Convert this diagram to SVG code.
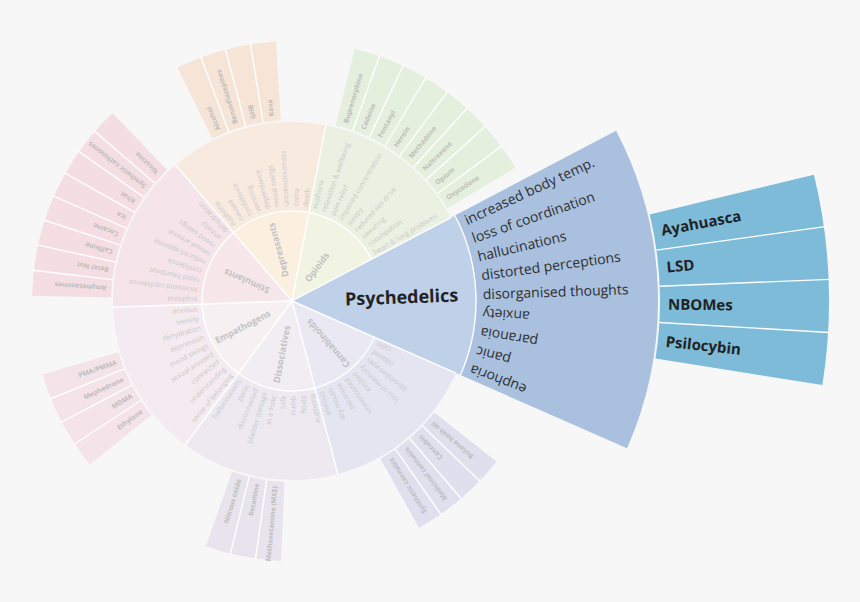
<svg xmlns="http://www.w3.org/2000/svg" width="860" height="602" viewBox="0 0 860 602">
<style>
text{font-family:"Open Sans","Liberation Sans",sans-serif}
.eff{font-size:7px;fill:#c9c9c9}
.sub{font-size:6.8px;font-weight:bold;fill:#bdbdbd}
.cat{font-size:9px;font-weight:bold;fill:#c2c2c2}
.peff{font-size:14px;fill:#2f2f2f}
.psub{font-size:15px;font-weight:bold;fill:#222}
.plab{font-size:18px;font-weight:bold;fill:#222}
.sec{fill:none}
.sep{stroke:#ffffff;stroke-width:1.4;fill:none}
</style>
<rect width="860" height="602" fill="#f7f7f7"/>
<g transform="translate(292,301)">
<!-- sectors -->
<g id="psychedelics">
<circle class="sec" r="92" stroke="#bed1e9" stroke-width="184" pathLength="360" stroke-dasharray="51.43 308.57" transform="rotate(-27.7)"/>
<circle class="sec" r="275" stroke="#a9c0df" stroke-width="182" pathLength="360" stroke-dasharray="51.43 308.57" transform="rotate(-27.7)"/>
<circle class="sec" r="452.5" stroke="#7dbbd9" stroke-width="169" pathLength="360" stroke-dasharray="22.6 337.4" transform="rotate(-13.6)"/>
</g>
<g id="cannabinoids">
<circle class="sec" r="45" stroke="#e9e8f3" stroke-width="90" pathLength="360" stroke-dasharray="51.43 308.57" transform="rotate(23.73)"/>
<circle class="sec" r="134.5" stroke="#e5e4f1" stroke-width="89" pathLength="360" stroke-dasharray="51.43 308.57" transform="rotate(23.73)"/>
<circle class="sec" r="220.5" stroke="#e0dfee" stroke-width="79" pathLength="360" stroke-dasharray="22.6 337.4" transform="rotate(38.14)"/>
</g>
<g id="dissociatives">
<circle class="sec" r="45" stroke="#f0eef3" stroke-width="90" pathLength="360" stroke-dasharray="51.43 308.57" transform="rotate(75.16)"/>
<circle class="sec" r="134.5" stroke="#ece9f1" stroke-width="89" pathLength="360" stroke-dasharray="51.43 308.57" transform="rotate(75.16)"/>
<circle class="sec" r="220.5" stroke="#e7e4ee" stroke-width="79" pathLength="360" stroke-dasharray="16.95 343.05" transform="rotate(92.4)"/>
</g>
<g id="empathogens">
<circle class="sec" r="45" stroke="#f6f0f3" stroke-width="90" pathLength="360" stroke-dasharray="51.43 308.57" transform="rotate(126.59)"/>
<circle class="sec" r="134.5" stroke="#f4ebf0" stroke-width="89" pathLength="360" stroke-dasharray="51.43 308.57" transform="rotate(126.59)"/>
<circle class="sec" r="220.5" stroke="#f5e3ea" stroke-width="79" pathLength="360" stroke-dasharray="22.6 337.4" transform="rotate(141)"/>
</g>
<g id="stimulants">
<circle class="sec" r="45" stroke="#f7e7eb" stroke-width="90" pathLength="360" stroke-dasharray="51.43 308.57" transform="rotate(178.01)"/>
<circle class="sec" r="134.5" stroke="#f5e4e9" stroke-width="89" pathLength="360" stroke-dasharray="51.43 308.57" transform="rotate(178.01)"/>
<circle class="sec" r="220.5" stroke="#f4dde3" stroke-width="79" pathLength="360" stroke-dasharray="45.2 314.8" transform="rotate(181.13)"/>
</g>
<g id="depressants">
<circle class="sec" r="45" stroke="#fbf0e0" stroke-width="90" pathLength="360" stroke-dasharray="51.43 308.57" transform="rotate(229.44)"/>
<circle class="sec" r="134.5" stroke="#f8eadf" stroke-width="89" pathLength="360" stroke-dasharray="51.43 308.57" transform="rotate(229.44)"/>
<circle class="sec" r="220.5" stroke="#f6e5d6" stroke-width="79" pathLength="360" stroke-dasharray="22.6 337.4" transform="rotate(243.86)"/>
</g>
<g id="opioids">
<circle class="sec" r="45" stroke="#f1f4e3" stroke-width="90" pathLength="360" stroke-dasharray="51.43 308.57" transform="rotate(280.87)"/>
<circle class="sec" r="134.5" stroke="#eaf1e2" stroke-width="89" pathLength="360" stroke-dasharray="51.43 308.57" transform="rotate(280.87)"/>
<circle class="sec" r="220.5" stroke="#e5efdd" stroke-width="79" pathLength="360" stroke-dasharray="45.2 314.8" transform="rotate(283.99)"/>
</g>
<!-- separators -->
<g id="separators">
<circle class="sep" r="90" pathLength="360" stroke-dasharray="308.57 51.43" transform="rotate(23.73)"/>
<circle class="sep" r="184" pathLength="360" stroke-dasharray="51.43 308.57" transform="rotate(-27.7)"/>
<line class="sep" x1="0" y1="0" x2="179" y2="0" transform="rotate(-27.7)"/>
<line class="sep" x1="0" y1="0" x2="179" y2="0" transform="rotate(23.73)"/>
<line class="sep" x1="0" y1="0" x2="179" y2="0" transform="rotate(75.16)"/>
<line class="sep" x1="0" y1="0" x2="179" y2="0" transform="rotate(126.59)"/>
<line class="sep" x1="0" y1="0" x2="179" y2="0" transform="rotate(178.01)"/>
<line class="sep" x1="0" y1="0" x2="179" y2="0" transform="rotate(229.44)"/>
<line class="sep" x1="0" y1="0" x2="179" y2="0" transform="rotate(280.87)"/>
<line class="sep" x1="368" y1="0" x2="538" y2="0" transform="rotate(-7.95)"/>
<line class="sep" x1="368" y1="0" x2="538" y2="0" transform="rotate(-2.3)"/>
<line class="sep" x1="368" y1="0" x2="538" y2="0" transform="rotate(3.35)"/>
<g transform="rotate(0)">
<line class="sep" x1="181" y1="0" x2="261" y2="0" transform="rotate(43.79)"/>
<line class="sep" x1="181" y1="0" x2="261" y2="0" transform="rotate(49.44)"/>
<line class="sep" x1="181" y1="0" x2="261" y2="0" transform="rotate(55.09)"/>
<line class="sep" x1="181" y1="0" x2="261" y2="0" transform="rotate(98.05)"/>
<line class="sep" x1="181" y1="0" x2="261" y2="0" transform="rotate(103.7)"/>
<line class="sep" x1="181" y1="0" x2="261" y2="0" transform="rotate(146.65)"/>
<line class="sep" x1="181" y1="0" x2="261" y2="0" transform="rotate(152.3)"/>
<line class="sep" x1="181" y1="0" x2="261" y2="0" transform="rotate(157.95)"/>
<line class="sep" x1="181" y1="0" x2="261" y2="0" transform="rotate(186.78)"/>
<line class="sep" x1="181" y1="0" x2="261" y2="0" transform="rotate(192.43)"/>
<line class="sep" x1="181" y1="0" x2="261" y2="0" transform="rotate(198.08)"/>
<line class="sep" x1="181" y1="0" x2="261" y2="0" transform="rotate(203.73)"/>
<line class="sep" x1="181" y1="0" x2="261" y2="0" transform="rotate(209.38)"/>
<line class="sep" x1="181" y1="0" x2="261" y2="0" transform="rotate(215.03)"/>
<line class="sep" x1="181" y1="0" x2="261" y2="0" transform="rotate(220.68)"/>
<line class="sep" x1="181" y1="0" x2="261" y2="0" transform="rotate(249.51)"/>
<line class="sep" x1="181" y1="0" x2="261" y2="0" transform="rotate(255.16)"/>
<line class="sep" x1="181" y1="0" x2="261" y2="0" transform="rotate(260.81)"/>
<line class="sep" x1="181" y1="0" x2="261" y2="0" transform="rotate(289.64)"/>
<line class="sep" x1="181" y1="0" x2="261" y2="0" transform="rotate(295.29)"/>
<line class="sep" x1="181" y1="0" x2="261" y2="0" transform="rotate(300.94)"/>
<line class="sep" x1="181" y1="0" x2="261" y2="0" transform="rotate(306.59)"/>
<line class="sep" x1="181" y1="0" x2="261" y2="0" transform="rotate(312.24)"/>
<line class="sep" x1="181" y1="0" x2="261" y2="0" transform="rotate(317.89)"/>
<line class="sep" x1="181" y1="0" x2="261" y2="0" transform="rotate(323.54)"/>
</g>
</g>
<g id="connectors"/>
<!-- labels -->
<g id="psychedelics-labels">
<text class="plab" transform="rotate(-2)" x="53" dy="0.35em">Psychedelics</text>
<text class="peff" transform="rotate(-24.84)" x="191" dy="0.35em">increased body temp.</text>
<text class="peff" transform="rotate(-19.13)" x="191" dy="0.35em">loss of coordination</text>
<text class="peff" transform="rotate(-13.41)" x="191" dy="0.35em">hallucinations</text>
<text class="peff" transform="rotate(-7.70)" x="191" dy="0.35em">distorted perceptions</text>
<text class="peff" transform="rotate(-1.99)" x="191" dy="0.35em">disorganised thoughts</text>
<text class="peff" transform="rotate(3.73) translate(191,0) rotate(180)" text-anchor="end" dy="0.35em">anxiety</text>
<text class="peff" transform="rotate(9.44) translate(191,0) rotate(180)" text-anchor="end" dy="0.35em">paranoia</text>
<text class="peff" transform="rotate(15.16) translate(191,0) rotate(180)" text-anchor="end" dy="0.35em">panic</text>
<text class="peff" transform="rotate(20.87) translate(191,0) rotate(180)" text-anchor="end" dy="0.35em">euphoria</text>
<g id="sub-ayahuasca"><text class="psub" transform="rotate(-10.78)" x="376" dy="0.35em">Ayahuasca</text></g>
<g id="sub-lsd"><text class="psub" transform="rotate(-5.13)" x="376" dy="0.35em">LSD</text></g>
<g id="sub-nbomes"><text class="psub" transform="rotate(0.53)" x="376" dy="0.35em">NBOMes</text></g>
<g id="sub-psilocybin"><text class="psub" transform="rotate(6.18)" x="376" dy="0.35em">Psilocybin</text></g>
</g>
<g id="cannabinoids-labels" text-anchor="end">
<text class="cat" transform="rotate(49.44) translate(25,0) rotate(180)" dy="0.35em">Cannabinoids</text>
<text class="eff" transform="rotate(26.59) translate(95,0) rotate(180)" dy="0.35em">calm</text>
<text class="eff" transform="rotate(32.30) translate(95,0) rotate(180)" dy="0.35em">relaxed</text>
<text class="eff" transform="rotate(38.02) translate(95,0) rotate(180)" dy="0.35em">bloodshot eyes</text>
<text class="eff" transform="rotate(43.73) translate(95,0) rotate(180)" dy="0.35em">loss of memory</text>
<text class="eff" transform="rotate(49.44) translate(95,0) rotate(180)" dy="0.35em">excited</text>
<text class="eff" transform="rotate(55.16) translate(95,0) rotate(180)" dy="0.35em">unmotivated</text>
<text class="eff" transform="rotate(60.87) translate(95,0) rotate(180)" dy="0.35em">paranoia</text>
<text class="eff" transform="rotate(66.59) translate(95,0) rotate(180)" dy="0.35em">dry mouth</text>
<text class="eff" transform="rotate(72.30) translate(95,0) rotate(180)" dy="0.35em">anxious</text>
<g id="sub-butane-hash-oil"><text class="sub" transform="rotate(40.97) translate(186,0) rotate(180)" dy="0.35em">Butane hash oil</text></g>
<g id="sub-cannabis"><text class="sub" transform="rotate(46.62) translate(186,0) rotate(180)" dy="0.35em">Cannabis</text></g>
<g id="sub-medicinal-cannabis"><text class="sub" transform="rotate(52.27) translate(186,0) rotate(180)" dy="0.35em">Medicinal cannabis</text></g>
<g id="sub-synthetic-cannabis"><text class="sub" transform="rotate(57.92) translate(186,0) rotate(180)" dy="0.35em">Synthetic cannabis</text></g>
</g>
<g id="dissociatives-labels" text-anchor="end">
<text class="cat" transform="rotate(100.87) translate(25,0) rotate(180)" dy="0.35em">Dissociatives</text>
<text class="eff" transform="rotate(78.02) translate(95,0) rotate(180)" dy="0.35em">euphoria</text>
<text class="eff" transform="rotate(83.73) translate(95,0) rotate(180)" dy="0.35em">floaty</text>
<text class="eff" transform="rotate(89.45) translate(95,0) rotate(180)" dy="0.35em">numb</text>
<text class="eff" transform="rotate(95.16) translate(95,0) rotate(180)" dy="0.35em">safe</text>
<text class="eff" transform="rotate(100.87) translate(95,0) rotate(180)" dy="0.35em">in a 'hole'</text>
<text class="eff" transform="rotate(106.59) translate(95,0) rotate(180)" dy="0.35em">bladder damage</text>
<text class="eff" transform="rotate(112.30) translate(95,0) rotate(180)" dy="0.35em">disconnected</text>
<text class="eff" transform="rotate(118.02) translate(95,0) rotate(180)" dy="0.35em">panic</text>
<text class="eff" transform="rotate(123.73) translate(95,0) rotate(180)" dy="0.35em">hallucinations</text>
<g id="sub-methoxetamine"><text class="sub" transform="rotate(95.23) translate(186,0) rotate(180)" dy="0.35em">Methoxetamine (MXE)</text></g>
<g id="sub-ketamine"><text class="sub" transform="rotate(100.88) translate(186,0) rotate(180)" dy="0.35em">Ketamine</text></g>
<g id="sub-nitrous-oxide"><text class="sub" transform="rotate(106.53) translate(186,0) rotate(180)" dy="0.35em">Nitrous oxide</text></g>
</g>
<g id="empathogens-labels" text-anchor="end">
<text class="cat" transform="rotate(152.30) translate(25,0) rotate(180)" dy="0.35em">Empathogens</text>
<text class="eff" transform="rotate(129.45) translate(95,0) rotate(180)" dy="0.35em">sense of belonging</text>
<text class="eff" transform="rotate(135.16) translate(95,0) rotate(180)" dy="0.35em">understanding</text>
<text class="eff" transform="rotate(140.88) translate(95,0) rotate(180)" dy="0.35em">connected</text>
<text class="eff" transform="rotate(146.59) translate(95,0) rotate(180)" dy="0.35em">sexual aroused</text>
<text class="eff" transform="rotate(152.30) translate(95,0) rotate(180)" dy="0.35em">mood swings</text>
<text class="eff" transform="rotate(158.02) translate(95,0) rotate(180)" dy="0.35em">depression</text>
<text class="eff" transform="rotate(163.73) translate(95,0) rotate(180)" dy="0.35em">dehydration</text>
<text class="eff" transform="rotate(169.45) translate(95,0) rotate(180)" dy="0.35em">sweaty</text>
<text class="eff" transform="rotate(175.16) translate(95,0) rotate(180)" dy="0.35em">anxious</text>
<g id="sub-ethylone"><text class="sub" transform="rotate(143.83) translate(186,0) rotate(180)" dy="0.35em">Ethylone</text></g>
<g id="sub-mdma"><text class="sub" transform="rotate(149.48) translate(186,0) rotate(180)" dy="0.35em">MDMA</text></g>
<g id="sub-mephedrone"><text class="sub" transform="rotate(155.13) translate(186,0) rotate(180)" dy="0.35em">Mephedrone</text></g>
<g id="sub-pma"><text class="sub" transform="rotate(160.78) translate(186,0) rotate(180)" dy="0.35em">PMA/PMMA</text></g>
</g>
<g id="stimulants-labels">
<text class="cat" transform="rotate(203.73)" x="25" dy="0.35em">Stimulants</text>
<text class="eff" transform="rotate(180.87)" x="95" dy="0.35em">euphoria</text>
<text class="eff" transform="rotate(186.58)" x="95" dy="0.35em">increased confidence</text>
<text class="eff" transform="rotate(192.30)" x="95" dy="0.35em">rapid heartbeat</text>
<text class="eff" transform="rotate(198.01)" x="95" dy="0.35em">confidence</text>
<text class="eff" transform="rotate(203.73)" x="95" dy="0.35em">reduced appetite</text>
<text class="eff" transform="rotate(209.44)" x="95" dy="0.35em">sexual arousal</text>
<text class="eff" transform="rotate(215.15)" x="95" dy="0.35em">mood swings</text>
<text class="eff" transform="rotate(220.87)" x="95" dy="0.35em">anxiety</text>
<text class="eff" transform="rotate(226.58)" x="95" dy="0.35em">dehydration</text>
<g id="sub-amphetamines"><text class="sub" transform="rotate(183.96)" x="186" dy="0.35em">Amphetamines</text></g>
<g id="sub-betel-nut"><text class="sub" transform="rotate(189.61)" x="186" dy="0.35em">Betel Nut</text></g>
<g id="sub-caffeine"><text class="sub" transform="rotate(195.26)" x="186" dy="0.35em">Caffeine</text></g>
<g id="sub-cocaine"><text class="sub" transform="rotate(200.91)" x="186" dy="0.35em">Cocaine</text></g>
<g id="sub-ice"><text class="sub" transform="rotate(206.56)" x="186" dy="0.35em">Ice</text></g>
<g id="sub-khat"><text class="sub" transform="rotate(212.21)" x="186" dy="0.35em">Khat</text></g>
<g id="sub-synthetic-cathinones"><text class="sub" transform="rotate(217.86)" x="186" dy="0.35em">Synthetic cathinones</text></g>
<g id="sub-nicotine"><text class="sub" transform="rotate(223.51)" x="186" dy="0.35em">Nicotine</text></g>
</g>
<g id="depressants-labels">
<text class="cat" transform="rotate(255.16)" x="25" dy="0.35em">Depressants</text>
<text class="eff" transform="rotate(232.30)" x="95" dy="0.35em">euphoria</text>
<text class="eff" transform="rotate(238.01)" x="95" dy="0.35em">nausea</text>
<text class="eff" transform="rotate(243.73)" x="95" dy="0.35em">confidence</text>
<text class="eff" transform="rotate(249.44)" x="95" dy="0.35em">vomiting</text>
<text class="eff" transform="rotate(255.16)" x="95" dy="0.35em">dependence</text>
<text class="eff" transform="rotate(260.87)" x="95" dy="0.35em">mood swings</text>
<text class="eff" transform="rotate(266.58)" x="95" dy="0.35em">unconsciousness</text>
<text class="eff" transform="rotate(272.30)" x="95" dy="0.35em">coma</text>
<text class="eff" transform="rotate(278.01)" x="95" dy="0.35em">death</text>
<g id="sub-alcohol"><text class="sub" transform="rotate(246.69)" x="186" dy="0.35em">Alcohol</text></g>
<g id="sub-benzodiazepines"><text class="sub" transform="rotate(252.34)" x="186" dy="0.35em">Benzodiazepines</text></g>
<g id="sub-ghb"><text class="sub" transform="rotate(257.99)" x="186" dy="0.35em">GHB</text></g>
<g id="sub-kava"><text class="sub" transform="rotate(263.64)" x="186" dy="0.35em">Kava</text></g>
</g>
<g id="opioids-labels">
<text class="cat" transform="rotate(306.59)" x="25" dy="0.35em">Opioids</text>
<text class="eff" transform="rotate(283.73)" x="95" dy="0.35em">euphoria</text>
<text class="eff" transform="rotate(289.44)" x="95" dy="0.35em">relaxation &amp; wellbeing</text>
<text class="eff" transform="rotate(295.16)" x="95" dy="0.35em">pain relief</text>
<text class="eff" transform="rotate(300.87)" x="95" dy="0.35em">impaired concentration</text>
<text class="eff" transform="rotate(306.59)" x="95" dy="0.35em">sleepy</text>
<text class="eff" transform="rotate(312.30)" x="95" dy="0.35em">reduced sex drive</text>
<text class="eff" transform="rotate(318.01)" x="95" dy="0.35em">sweating</text>
<text class="eff" transform="rotate(323.73)" x="95" dy="0.35em">constipation</text>
<text class="eff" transform="rotate(329.44)" x="95" dy="0.35em">heart &amp; lung problems</text>
<g id="sub-buprenorphine"><text class="sub" transform="rotate(286.82)" x="186" dy="0.35em">Buprenorphine</text></g>
<g id="sub-codeine"><text class="sub" transform="rotate(292.47)" x="186" dy="0.35em">Codeine</text></g>
<g id="sub-fentanyl"><text class="sub" transform="rotate(298.12)" x="186" dy="0.35em">Fentanyl</text></g>
<g id="sub-heroin"><text class="sub" transform="rotate(303.77)" x="186" dy="0.35em">Heroin</text></g>
<g id="sub-methadone"><text class="sub" transform="rotate(309.42)" x="186" dy="0.35em">Methadone</text></g>
<g id="sub-naltrexone"><text class="sub" transform="rotate(315.07)" x="186" dy="0.35em">Naltrexone</text></g>
<g id="sub-opium"><text class="sub" transform="rotate(320.72)" x="186" dy="0.35em">Opium</text></g>
<g id="sub-oxycodone"><text class="sub" transform="rotate(326.37)" x="186" dy="0.35em">Oxycodone</text></g>
</g>
</g>
</svg>
